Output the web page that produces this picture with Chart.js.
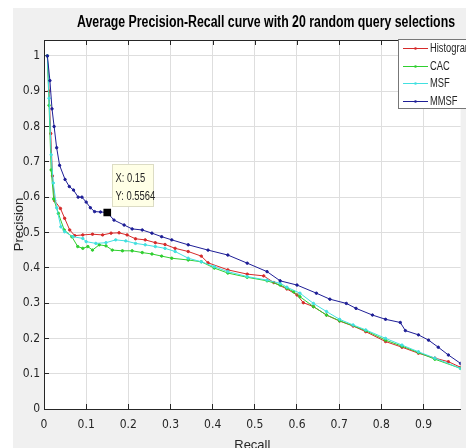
<!DOCTYPE html>
<html>
<head>
<meta charset="utf-8">
<script src="https://cdn.jsdelivr.net/npm/chart.js@4.4.0/dist/chart.umd.min.js"></script>
<style>
  html, body { margin: 0; padding: 0; background: #fff; overflow: hidden; }
  #wrap { width: 466px; height: 448px; position: relative; }
</style>
</head>
<body>
<div id="wrap"><canvas id="pr"></canvas></div>
<script>
const FONT = "'DejaVu Sans Condensed', 'Liberation Sans', sans-serif";
const WIDE = "'Liberation Sans', Arial, sans-serif";
const titleText = "Average Precision-Recall curve with 20 random query selections";
const seriesNames = ["Histogram", "CAC", "MSF", "MMSF"];
const seriesColors = ["#d62a2a", "#2fcf2f", "#42e0e0", "#1e1e96"];

// Histogram
const histRecall = [0.008, 0.012, 0.016, 0.02, 0.025, 0.039, 0.049, 0.061, 0.073, 0.092, 0.115, 0.139, 0.159, 0.178, 0.197, 0.217, 0.24, 0.264, 0.287, 0.311, 0.342, 0.373, 0.389, 0.436, 0.482, 0.521, 0.545, 0.576, 0.6, 0.615, 0.639, 0.67, 0.701, 0.733, 0.763, 0.81, 0.849, 0.888, 0.927, 0.959, 0.988, 1.0];
const histPrecision = [1.0, 0.9, 0.78, 0.66, 0.59, 0.568, 0.54, 0.507, 0.491, 0.493, 0.495, 0.493, 0.498, 0.499, 0.493, 0.482, 0.479, 0.471, 0.466, 0.455, 0.446, 0.433, 0.414, 0.394, 0.382, 0.377, 0.358, 0.34, 0.323, 0.301, 0.29, 0.266, 0.249, 0.235, 0.219, 0.191, 0.175, 0.158, 0.144, 0.134, 0.118, 0.112];

// CAC
const cacRecall = [0.008, 0.012, 0.017, 0.023, 0.034, 0.048, 0.066, 0.08, 0.092, 0.104, 0.115, 0.131, 0.147, 0.162, 0.186, 0.209, 0.233, 0.256, 0.279, 0.303, 0.342, 0.373, 0.404, 0.436, 0.482, 0.529, 0.56, 0.576, 0.592, 0.607, 0.639, 0.67, 0.701, 0.763, 0.81, 0.849, 0.888, 0.927, 0.988, 1.0];
const cacPrecision = [1.0, 0.86, 0.677, 0.595, 0.554, 0.507, 0.488, 0.46, 0.455, 0.46, 0.45, 0.465, 0.462, 0.45, 0.448, 0.448, 0.443, 0.439, 0.433, 0.427, 0.422, 0.417, 0.399, 0.385, 0.373, 0.363, 0.351, 0.342, 0.332, 0.318, 0.29, 0.266, 0.25, 0.222, 0.195, 0.178, 0.16, 0.141, 0.115, 0.11];

// MSF
const msfRecall = [0.008, 0.012, 0.017, 0.022, 0.03, 0.04, 0.049, 0.069, 0.092, 0.1, 0.123, 0.147, 0.17, 0.194, 0.217, 0.24, 0.264, 0.287, 0.311, 0.342, 0.373, 0.404, 0.436, 0.482, 0.529, 0.56, 0.576, 0.607, 0.639, 0.67, 0.701, 0.733, 0.763, 0.81, 0.849, 0.888, 0.927, 0.988, 1.0];
const msfPrecision = [1.0, 0.88, 0.72, 0.64, 0.57, 0.516, 0.502, 0.488, 0.483, 0.474, 0.469, 0.471, 0.479, 0.476, 0.469, 0.465, 0.46, 0.455, 0.446, 0.427, 0.417, 0.403, 0.389, 0.375, 0.365, 0.356, 0.345, 0.328, 0.299, 0.276, 0.254, 0.238, 0.224, 0.2, 0.181, 0.162, 0.144, 0.115, 0.11];

// MMSF
const mmsfRecall = [0.008, 0.014, 0.019, 0.024, 0.03, 0.037, 0.05, 0.06, 0.07, 0.081, 0.09, 0.1, 0.11, 0.12, 0.134, 0.15, 0.166, 0.19, 0.209, 0.233, 0.256, 0.279, 0.303, 0.342, 0.389, 0.436, 0.482, 0.529, 0.56, 0.6, 0.646, 0.678, 0.717, 0.74, 0.779, 0.81, 0.845, 0.857, 0.888, 0.912, 0.935, 0.959, 0.988, 1.0];
const mmsfPrecision = [1.0, 0.93, 0.85, 0.8, 0.74, 0.69, 0.65, 0.63, 0.62, 0.6, 0.6, 0.586, 0.57, 0.559, 0.558, 0.5564, 0.535, 0.521, 0.51, 0.507, 0.498, 0.488, 0.479, 0.465, 0.45, 0.436, 0.413, 0.389, 0.363, 0.351, 0.328, 0.311, 0.299, 0.285, 0.266, 0.254, 0.245, 0.222, 0.21, 0.195, 0.175, 0.153, 0.129, 0.12];

// data tip
const tipRecall = 0.15;
const tipPrecision = 0.5564;

function toPoints(xs, ys) {
  return xs.map(function (x, i) { return { x: x, y: ys[i] }; });
}

function makeSeries(i, xs, ys) {
  return {
    label: seriesNames[i],
    data: toPoints(xs, ys),
    showLine: true,
    borderColor: seriesColors[i],
    backgroundColor: seriesColors[i],
    borderWidth: 1,
    pointRadius: 1.2,
    pointHoverRadius: 0,
    order: 4 - i
  };
}

// text squeezed sideways, to look like the narrow matlab font
function narrowText(c, text, x, y, sx) {
  c.save();
  c.translate(x, y);
  c.scale(sx, 1);
  c.fillText(text, 0, 0);
  c.restore();
}

const decor = {
  id: "decor",
  beforeDraw(chart) {
    const c = chart.ctx, a = chart.chartArea;
    c.save();
    c.fillStyle = "#f0f0f0";
    c.fillRect(13, 8, chart.width - 13, chart.height - 8);
    c.fillStyle = "#ffffff";
    c.fillRect(a.left, a.top, a.right - a.left, a.bottom - a.top);
    c.restore();
  },
  afterDraw(chart) {
    const c = chart.ctx, a = chart.chartArea;
    c.save();
    // title
    c.fillStyle = "#000";
    c.font = "bold 16px " + WIDE;
    c.textAlign = "center";
    c.textBaseline = "middle";
    const tw = c.measureText(titleText).width;
    narrowText(c, titleText, 266, 23, 378 / tw);

    // top frame + inward ticks
    c.strokeStyle = "#262626";
    c.lineWidth = 1;
    c.beginPath();
    c.moveTo(a.left, a.top + 0.5);
    c.lineTo(a.right, a.top + 0.5);
    chart.scales.x.ticks.forEach(function (t) {
      const px = Math.round(chart.scales.x.getPixelForValue(t.value)) + 0.5;
      c.moveTo(px, a.top);
      c.lineTo(px, a.top + 5);
    });
    c.stroke();

    // legend
    c.fillStyle = "#fff";
    c.fillRect(398, 39, 80, 69);
    c.strokeStyle = "#777";
    c.strokeRect(398.5, 39.5, 80, 69);
    c.font = "12px " + WIDE;
    c.textAlign = "left";
    seriesNames.forEach(function (name, i) {
      const y = Math.round(48 + i * 17.5) + 0.5;
      c.strokeStyle = seriesColors[i];
      c.beginPath();
      c.moveTo(403, y);
      c.lineTo(428, y);
      c.stroke();
      c.fillStyle = seriesColors[i];
      c.beginPath();
      c.arc(415.5, y, 1.3, 0, Math.PI * 2);
      c.fill();
      c.fillStyle = "#262626";
      narrowText(c, name, 430, y, 0.78);
    });

    // data tip box
    const mx = chart.scales.x.getPixelForValue(tipRecall);
    const my = chart.scales.y.getPixelForValue(tipPrecision);
    const bx = Math.round(mx + 5) + 0.5, by = Math.round(my - 49) + 0.5;
    c.fillStyle = "#ffffe6";
    c.fillRect(bx, by, 41, 42);
    c.strokeStyle = "#dcdcc4";
    c.strokeRect(bx, by, 41, 42);
    c.fillStyle = "#262626";
    c.font = "12.5px " + WIDE;
    narrowText(c, "X: " + tipRecall, bx + 3, by + 14, 0.75);
    narrowText(c, "Y: " + tipPrecision, bx + 3, by + 32, 0.75);
    c.restore();
  }
};

const axisFont = { family: FONT, size: 12 };
const labelFont = { family: WIDE, size: 13 };

new Chart(document.getElementById("pr"), {
  type: "scatter",
  data: {
    datasets: [
      makeSeries(0, histRecall, histPrecision),
      makeSeries(1, cacRecall, cacPrecision),
      makeSeries(2, msfRecall, msfPrecision),
      makeSeries(3, mmsfRecall, mmsfPrecision),
      {
        label: "tip",
        data: [{ x: tipRecall, y: tipPrecision }],
        pointStyle: "rect",
        pointRadius: 5.4,
        pointHoverRadius: 0,
        backgroundColor: "#000",
        borderColor: "#000",
        borderWidth: 0,
        order: 0
      }
    ]
  },
  options: {
    responsive: true,
    maintainAspectRatio: false,
    animation: false,
    events: [],
    layout: { padding: { top: 40, right: 0, bottom: 0, left: 0 } },
    plugins: {
      legend: { display: false },
      title: { display: false },
      tooltip: { enabled: false }
    },
    scales: {
      x: {
        type: "linear",
        min: 0,
        max: 0.988,
        afterFit(scale) { scale.height = 39; },
        ticks: {
          stepSize: 0.1,
          includeBounds: false,
          color: "#262626",
          font: axisFont,
          padding: 14,
          maxRotation: 0,
          callback: function (v) { return Math.round(v * 10) / 10; }
        },
        grid: { color: "#dedede", tickLength: -5, tickColor: "#262626" },
        border: { color: "#262626", width: 1 },
        title: {
          display: true,
          text: "Recall",
          color: "#262626",
          font: labelFont,
          padding: { top: 0, bottom: -5 }
        }
      },
      y: {
        min: 0,
        max: 1.045,
        afterFit(scale) { scale.width = 44; },
        ticks: {
          stepSize: 0.1,
          includeBounds: false,
          color: "#262626",
          font: axisFont,
          padding: 9,
          callback: function (v) { return Math.round(v * 10) / 10; }
        },
        grid: { color: "#dedede", tickLength: -5, tickColor: "#262626" },
        border: { color: "#262626", width: 1 },
        title: {
          display: true,
          text: "Precision",
          color: "#262626",
          font: labelFont,
          padding: { top: 12, bottom: 0 }
        }
      }
    }
  },
  plugins: [decor]
});
</script>
</body>
</html>
